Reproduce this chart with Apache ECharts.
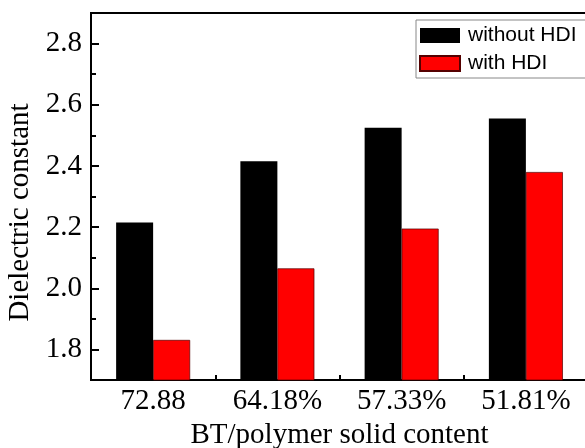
<!DOCTYPE html>
<html>
<head>
<meta charset="utf-8">
<script src="https://cdn.jsdelivr.net/npm/echarts@6/dist/echarts.min.js"></script>
<style>html,body{margin:0;padding:0;background:#fff}#c{width:585px;height:448px}</style>
</head>
<body>
<div id="c"></div>
<script>
const categories = ['72.88', '64.18%', '57.33%', '51.81%'];
const withoutHDI = [2.215, 2.415, 2.525, 2.555];
const withHDI = [1.831, 2.065, 2.195, 2.380];
const yTickLabels = [1.8, 2.0, 2.2, 2.4, 2.6, 2.8];
const yMinorTicks = [1.9, 2.1, 2.3, 2.5, 2.7];
const seriesNames = ['without HDI', 'with HDI'];

const serif = '"Liberation Serif", "Times New Roman", serif';
const chart = echarts.init(document.getElementById('c'), null, {renderer: 'canvas'});
chart.setOption({
  animation: false,
  backgroundColor: '#fff',
  grid: {left: 91, right: -3, top: 13, bottom: 68, show: true, borderColor: '#000', borderWidth: 2, containLabel: false, outerBoundsMode: 'none'},
  legend: {
    orient: 'vertical', left: 416, top: 20,
    icon: 'rect',
    itemWidth: 40, itemHeight: 15, itemGap: 7,
    padding: [5, 30, 4, 3],
    borderColor: '#888', borderWidth: 1,
    textStyle: {fontFamily: '"Liberation Sans", Arial, sans-serif', fontSize: 21, color: '#000', padding: [0,0,0,3]},
    data: seriesNames
  },
  xAxis: {
    type: 'category', data: categories,
    axisLine: {lineStyle: {color: '#000', width: 2}},
    axisTick: {show: true, inside: true, length: 5, lineStyle: {color: '#000', width: 2}},
    axisLabel: {fontFamily: serif, fontSize: 29, color: '#000', margin: 7},
    name: 'BT/polymer solid content', nameLocation: 'middle', nameGap: 37,
    nameTextStyle: {fontFamily: serif, fontSize: 29, color: '#000'}
  },
  yAxis: [{
    type: 'value', min: 1.7, max: 2.9,
    axisLine: {show: true, lineStyle: {color: '#000', width: 2}},
    axisTick: {show: true, inside: true, length: 8, lineStyle: {color: '#000', width: 2}, customValues: yTickLabels},
    axisLabel: {fontFamily: serif, fontSize: 29, color: '#000', margin: 9, customValues: yTickLabels, formatter: v => v.toFixed(1)},
    splitLine: {show: false},
    name: 'Dielectric constant', nameLocation: 'middle', nameGap: 54,
    nameTextStyle: {fontFamily: serif, fontSize: 29, color: '#000', padding: [0, 0, 0, -32]}
  }, {
    type: 'value', min: 1.7, max: 2.9, position: 'left',
    axisLine: {show: false},
    axisTick: {show: true, inside: true, length: 5, lineStyle: {color: '#000', width: 2}, customValues: yMinorTicks},
    axisLabel: {show: false},
    splitLine: {show: false}
  }],
  series: [{
    name: seriesNames[0], type: 'bar', data: withoutHDI, barWidth: 37, barGap: '0%',
    itemStyle: {color: '#000', borderColor: '#000', borderWidth: 0}
  }, {
    name: seriesNames[1], type: 'bar', data: withHDI, barWidth: 37,
    itemStyle: {color: '#ff0000', borderColor: '#500', borderWidth: 0.7}
  }]
});
</script>
</body>
</html>
